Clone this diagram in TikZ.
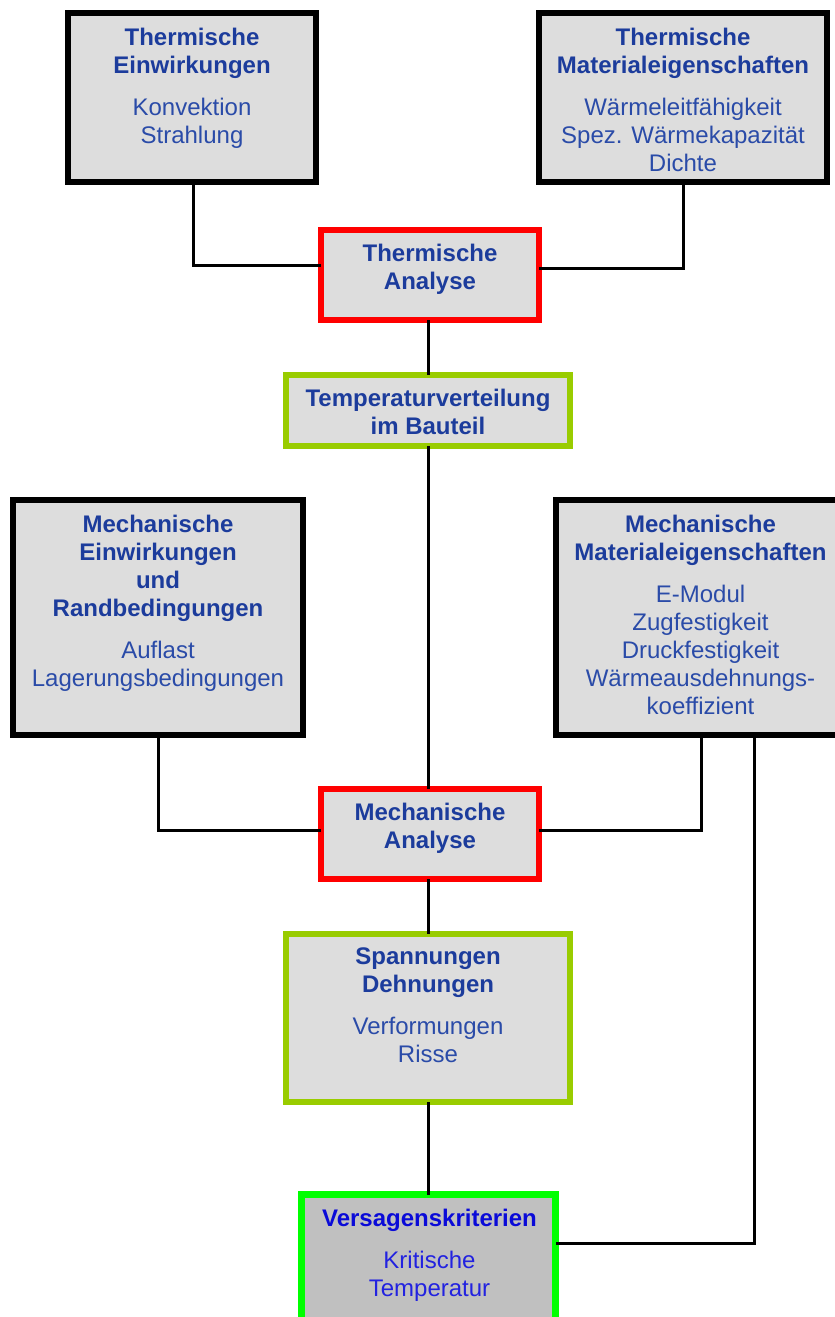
\documentclass[tikz,border=0pt]{standalone}
\usepackage{fontspec}
\setmainfont{Liberation Sans}
\definecolor{titleblue}{HTML}{1C3C9C}
\definecolor{bodyblue}{HTML}{2A4BA8}
\definecolor{vtitle}{HTML}{0A0AD8}
\definecolor{vbody}{HTML}{2222E0}
\definecolor{boxfill}{HTML}{DDDDDD}
\definecolor{vfill}{HTML}{C0C0C0}
\definecolor{ygreen}{HTML}{99CC00}
\definecolor{bgreen}{HTML}{00FF00}
\tikzset{
  box/.style={draw, rectangle, fill=boxfill, inner sep=0pt, outer sep=0pt},
  inbox/.style={box, draw=black, line width=6pt},
  anbox/.style={box, draw=red, line width=5.5pt},
  resbox/.style={box, draw=ygreen, line width=6pt},
  critbox/.style={box, draw=bgreen, fill=vfill, line width=7pt},
  txt/.style={anchor=north, inner sep=0pt, align=center, text=titleblue,
    font=\fontsize{24}{28}\selectfont},
  conn/.style={draw=black, line width=3pt},
}
\newcommand{\ttl}[1]{\textbf{#1}}
\newcommand{\bdy}[1]{\color{bodyblue}#1}
\begin{document}
\begin{tikzpicture}[x=1pt,y=-1pt]
\useasboundingbox (0,0) rectangle (835,1317);
\clip (0,0) rectangle (835,1317);
\fill[white] (0,0) rectangle (835,1317);

% boxes
\node[inbox, minimum width=248pt, minimum height=169pt] (b1) at (192,97.5) {};
\node[inbox, minimum width=288pt, minimum height=169pt] (b2) at (683,97.5) {};
\node[anbox, minimum width=218pt, minimum height=90pt] (tha) at (430,275) {};
\node[resbox, minimum width=284pt, minimum height=71pt] (tv) at (428,410.5) {};
\node[inbox, minimum width=290pt, minimum height=235pt] (b5) at (158,617.5) {};
\node[inbox, minimum width=289pt, minimum height=235pt] (b6) at (700.5,617.5) {};
\node[anbox, minimum width=218pt, minimum height=90pt] (mea) at (430,834) {};
\node[resbox, minimum width=284pt, minimum height=168pt] (sd) at (428,1018) {};
\node[critbox, minimum width=254pt, minimum height=140pt] (vk) at (428.5,1264.75) {};

% texts
\node[txt] (t1) at (192,28) {\ttl{Thermische}\\\ttl{Einwirkungen}\\[14pt]\bdy{Konvektion}\\\bdy{Strahlung}};
\node[txt] (t2) at (683,28) {\ttl{Thermische}\\\ttl{Materialeigenschaften}\\[14pt]\bdy{Wärmeleitfähigkeit}\\\bdy{Spez. Wärmekapazität}\\\bdy{Dichte}};
\node[txt] (t3) at (430,244) {\ttl{Thermische}\\\ttl{Analyse}};
\node[txt] (t4) at (428,389) {\ttl{Temperaturverteilung}\\\ttl{im Bauteil}};
\node[txt] (t5) at (158,515) {\ttl{Mechanische}\\\ttl{Einwirkungen}\\\ttl{und}\\\ttl{Randbedingungen}\\[14pt]\bdy{Auflast}\\\bdy{Lagerungsbedingungen}};
\node[txt] (t6) at (700.5,515) {\ttl{Mechanische}\\\ttl{Materialeigenschaften}\\[14pt]\bdy{E-Modul}\\\bdy{Zugfestigkeit}\\\bdy{Druckfestigkeit}\\\bdy{Wärmeausdehnungs-}\\\bdy{koeffizient}};
\node[txt] (t7) at (430,803) {\ttl{Mechanische}\\\ttl{Analyse}};
\node[txt] (t8) at (428,948) {\ttl{Spannungen}\\\ttl{Dehnungen}\\[14pt]\bdy{Verformungen}\\\bdy{Risse}};
\node[txt, text=vtitle] (t9) at (429.5,1209) {\ttl{Versagenskriterien}\\[14pt]{\color{vbody}Kritische}\\{\color{vbody}Temperatur}};

% connectors
\coordinate (c1) at (193,265);
\coordinate (c2) at (683,268);
\coordinate (c5) at (158,830);
\coordinate (c6) at (701,830);
\coordinate (c7) at (754,1243);
\draw[conn] (c1 |- b1.south) -- (c1) -- (c1 -| tha.west);
\draw[conn] (c2 |- b2.south) -- (c2) -- (c2 -| tha.east);
\draw[conn] (tha.south -| tv.north) -- (tv.north);
\draw[conn] (tv.south) -- (tv.south |- mea.north);
\draw[conn] (c5 |- b5.south) -- (c5) -- (c5 -| mea.west);
\draw[conn] (c6 |- b6.south) -- (c6) -- (c6 -| mea.east);
\draw[conn] (mea.south -| sd.north) -- (sd.north);
\draw[conn] (sd.south) -- (sd.south |- vk.north);
\draw[conn] (c7 |- b6.south) -- (c7) -- (c7 -| vk.east);
\end{tikzpicture}
\end{document}
